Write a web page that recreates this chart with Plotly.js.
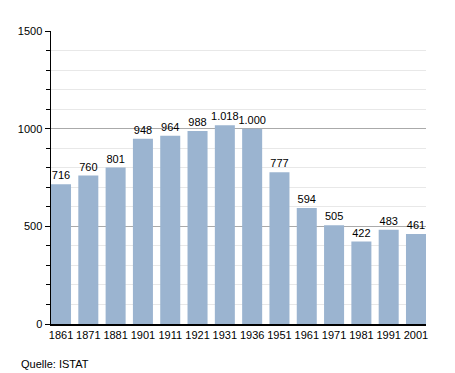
<!DOCTYPE html>
<html><head><meta charset="utf-8">
<script src="https://cdn.plot.ly/plotly-3.0.1.min.js"></script>
<style>body{margin:0;padding:0;background:#fff}#chart{width:455px;height:373px}</style>
</head><body><div id="chart"></div>
<script>
const years = ["1861","1871","1881","1901","1911","1921","1931","1936","1951","1961","1971","1981","1991","2001"];
const population = [716,760,801,948,964,988,1018,1000,777,594,505,422,483,461];
const yTicks = [0,500,1000,1500];

const FONT = "'Liberation Sans', Arial, sans-serif";
const gap = 0.267;
const half = (1 - gap) / 2;
const trace = {
  type: 'bar', x: years, y: population,
  marker: {color: '#9bb4d0'},
  texttemplate: '%{y:,}', textposition: 'outside', cliponaxis: false, constraintext: 'none',
  textfont: {family: FONT, size: 11, color: '#000'},
  hoverinfo: 'none'
};
const layout = {
  width: 455, height: 373,
  margin: {l: 51, r: 29, t: 31, b: 49},
  separators: ',.',
  bargap: gap,
  showlegend: false,
  paper_bgcolor: '#fff', plot_bgcolor: '#fff',
  font: {family: FONT, size: 11, color: '#000'},
  xaxis: {type: 'category', range: [-half, years.length - 1 + half], showline: true, linecolor: '#000', linewidth: 1.5, ticks: '', showgrid: false,
    tickangle: 0, tickfont: {size: 11}},
  yaxis: {range: [0,1500], tickvals: yTicks, ticktext: yTicks.map(String), showline: true, linecolor: '#000', linewidth: 1.5,
    ticks: 'outside', ticklen: 5, tickcolor: '#000', gridcolor: '#aaaaaa', zeroline: false, tickfont: {size: 11},
    minor: {dtick: 100, ticks: 'outside', ticklen: 4, tickcolor: '#000', showgrid: true, gridcolor: '#e8e8e8'}},
  annotations: [{text: 'Quelle: ISTAT', xref: 'paper', yref: 'paper', x: -0.085, y: -0.135, xanchor: 'left', yanchor: 'middle',
    showarrow: false, font: {size: 11, color: '#000'}}]
};
Plotly.newPlot('chart', [trace], layout, {displayModeBar: false, staticPlot: true});
</script></body></html>
